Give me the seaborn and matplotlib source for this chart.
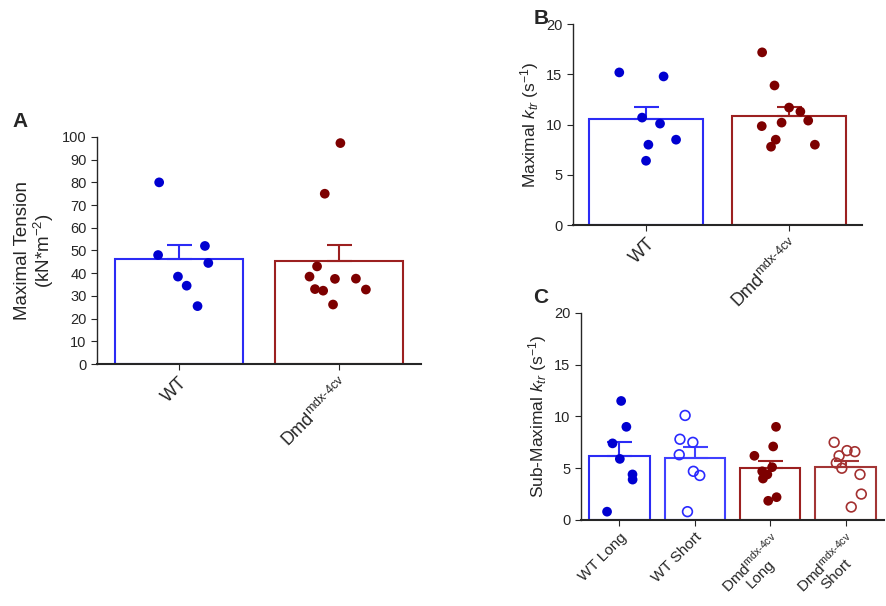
import numpy as np
import pandas as pd
import seaborn as sns
import matplotlib.pyplot as plt

# panel A - maximal tension
groups_ab = ['WT', 'Dmd$^{mdx\u20104cv}$']
tension_wt = [80.0, 52.0, 48.0, 44.5, 38.5, 34.5, 25.5]
tension_dmd = [97.3, 75.0, 43.0, 38.5, 37.6, 37.5, 33.0, 32.8, 32.3, 26.2]
tension_mean = [46.3, 45.4]
tension_top = [52.5, 52.3]

# panel B - maximal ktr
ktr_wt = [15.2, 14.8, 10.7, 10.1, 8.5, 8.0, 6.4]
ktr_dmd = [17.2, 13.9, 11.7, 11.3, 10.4, 10.2, 9.85, 8.5, 8.0, 7.8]
ktr_mean = [10.55, 10.9]
ktr_top = [11.8, 11.8]

# panel C - sub-maximal ktr
groups_c = ['WT Long', 'WT Short', 'Dmd$^{mdx\u20104cv}$\nLong', 'Dmd$^{mdx\u20104cv}$\nShort']
sub_wt_long = [11.5, 9.0, 7.4, 5.9, 4.4, 3.9, 0.8]
sub_wt_short = [10.1, 7.8, 7.5, 6.3, 4.7, 4.3, 0.8]
sub_dmd_long = [9.0, 7.1, 6.2, 5.1, 4.7, 4.4, 4.0, 2.2, 1.85]
sub_dmd_short = [7.5, 6.7, 6.6, 6.2, 5.5, 5.0, 4.4, 2.5, 1.25]
sub_mean = [6.2, 6.0, 5.0, 5.1]
sub_top = [7.5, 7.05, 5.7, 5.7]

blue_edge = '#2b2bf5'
blue_pt = '#0000d0'
red_edge = '#9c2020'
red_pt = '#7d0000'

sns.set_style('ticks')
plt.rcParams['font.family'] = ['Liberation Sans', 'DejaVu Sans']
plt.rcParams['mathtext.fontset'] = 'custom'
plt.rcParams['mathtext.rm'] = 'Liberation Sans'
plt.rcParams['mathtext.it'] = 'Liberation Sans:italic'
plt.rcParams['mathtext.default'] = 'regular'

fig = plt.figure(figsize=(8.86, 6.06), dpi=100)
axA = fig.add_axes([0.1095, 0.3993, 0.3655, 0.3747])
axB = fig.add_axes([0.6467, 0.6287, 0.3263, 0.3313])
axC = fig.add_axes([0.6558, 0.142, 0.3419, 0.3415])


def panel(ax, cats, values, means, tops, edges, pts, open_idx=(), seed=3):
    df = pd.DataFrame({'g': np.repeat(cats, [len(v) for v in values]),
                       'v': np.concatenate(values)})
    sns.barplot(x=cats, y=means, hue=cats, palette=edges, fill=False,
                width=0.8, linewidth=1.5, legend=False, ax=ax, zorder=2)
    for i, (m, t) in enumerate(zip(means, tops)):
        ax.errorbar(i, m, yerr=[[0], [t - m]], fmt='none', ecolor=edges[i],
                    elinewidth=1.5, capsize=9, capthick=1.5, zorder=3)
    n0 = len(ax.collections)
    np.random.seed(seed)
    sns.stripplot(data=df, x='g', y='v', hue='g', order=cats, hue_order=cats,
                  palette=pts, jitter=0.22, size=7, linewidth=0,
                  legend=False, ax=ax, zorder=4)
    pts_colls = ax.collections[n0:]
    for k in open_idx:
        c = pts_colls[k]
        c.set_facecolor('none')
        c.set_edgecolor(pts[k])
        c.set_linewidth(1.2)
    sns.despine(ax=ax)
    ax.spines['left'].set_linewidth(1.0)
    ax.spines['bottom'].set_linewidth(1.5)
    ax.tick_params(axis='both', labelsize=10.5, length=4, direction='out')
    ax.set_xlabel('')
    ax.set_xticks(range(len(cats)))
    ax.set_xticklabels(cats, rotation=45, ha='right', rotation_mode='anchor',
                       fontsize=13)
    ax.set_xlim(-0.51, len(cats) - 0.49)


panel(axA, groups_ab, [tension_wt, tension_dmd], tension_mean, tension_top,
      [blue_edge, red_edge], [blue_pt, red_pt], seed=5)
axA.set_ylim(0, 100)
axA.set_yticks(np.arange(0, 101, 10))
axA.set_ylabel('Maximal Tension\n(kN*m$^{-2}$)', fontsize=13.5, linespacing=1.1)

panel(axB, groups_ab, [ktr_wt, ktr_dmd], ktr_mean, ktr_top,
      [blue_edge, red_edge], [blue_pt, red_pt], seed=7)
axB.set_ylim(0, 20)
axB.set_yticks(np.arange(0, 21, 5))
axB.set_ylabel('Maximal $\\mathit{k_{tr}}$ (s$^{-1}$)', fontsize=12.5)

panel(axC, groups_c, [sub_wt_long, sub_wt_short, sub_dmd_long, sub_dmd_short],
      sub_mean, sub_top,
      [blue_edge, '#4040ff', red_edge, '#a33535'],
      [blue_pt, '#2a2aff', red_pt, '#a33030'], open_idx=(1, 3), seed=3)
axC.set_ylim(0, 20)
axC.set_yticks(np.arange(0, 21, 5))
axC.set_ylabel('Sub-Maximal $\\mathit{k_{tr}}$ (s$^{-1}$)', fontsize=12.5)
for lbl in axC.get_xticklabels():
    lbl.set_fontsize(11)
    lbl.set_multialignment('center')
    lbl.set_linespacing(0.95)

fig.text(0.014, 0.79, 'A', fontsize=15, fontweight='bold')
fig.text(0.602, 0.96, 'B', fontsize=15, fontweight='bold')
fig.text(0.602, 0.5, 'C', fontsize=15, fontweight='bold')

fig.savefig('out.png', dpi=100)
